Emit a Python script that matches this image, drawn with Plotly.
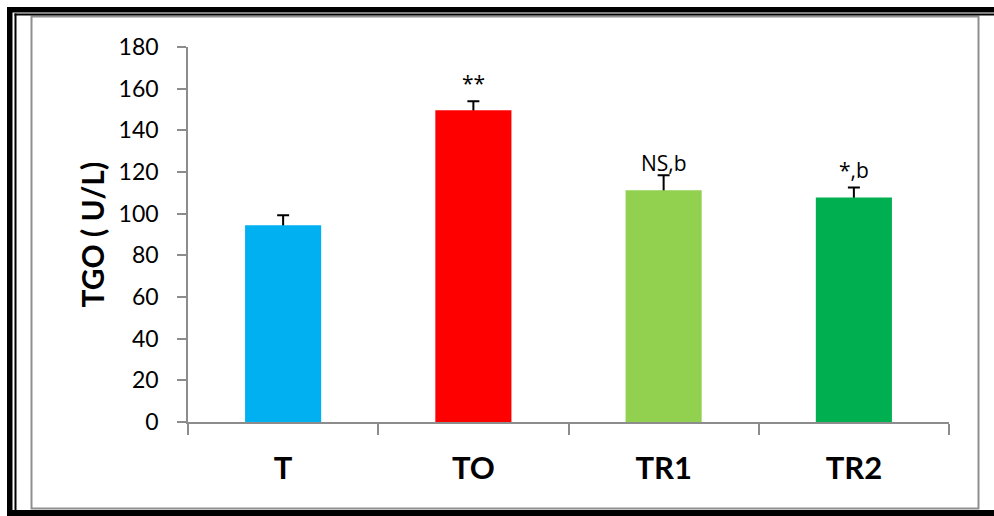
import plotly.graph_objects as go

# Group data: mean TGO activity (U/L) with standard error
groups = ["T", "TO", "TR1", "TR2"]
tgo_mean = [94.4, 149.6, 111.2, 107.8]
tgo_err = [4.8, 4.4, 7.2, 4.7]
sig_labels = ["", "**", "NS,b", "*,b"]
bar_colors = ["#00B0F0", "#FF0000", "#92D050", "#00B050"]
y_ticks = [0, 20, 40, 60, 80, 100, 120, 140, 160, 180]

W, H = 994, 516
ML, MR, MT, MB = 188, 45, 47, 94
PW, PH = W - ML - MR, H - MT - MB
FONT = "Lato, Carlito, Calibri, sans-serif"
AXIS_GREY = "#8C8C8C"


def px(x):
    return (x - ML) / PW


def py(y):
    return (H - MB - y) / PH


fig = go.Figure()
# Error bars sit in a transparent trace underneath, so the coloured bars
# hide their lower half and only the upper whisker shows.
fig.add_trace(go.Bar(
    x=groups, y=tgo_mean, width=0.4,
    marker=dict(color="rgba(0,0,0,0)", line=dict(width=0)),
    error_y=dict(type="data", array=tgo_err, color="black",
                 thickness=2, width=6),
    showlegend=False, hoverinfo="skip",
))
fig.add_trace(go.Bar(
    x=groups, y=tgo_mean, width=0.4,
    marker=dict(color=bar_colors, line=dict(width=0)),
    showlegend=False,
))

# Significance labels above each bar
for g, v, lab in zip(groups, tgo_mean, sig_labels):
    if lab:
        fig.add_annotation(x=g, y=v, text=lab, showarrow=False,
                           yanchor="bottom", yshift=11,
                           font=dict(family="Open Sans, sans-serif", size=21,
                                     color="black"))

# Y-axis title
fig.add_annotation(xref="paper", yref="paper", x=px(91), y=0.5,
                   text="<b>TGO ( U/L)</b>", textangle=-90, showarrow=False,
                   xanchor="center", yanchor="middle",
                   font=dict(family=FONT, size=30, color="black"))

shapes = []
# Chart area border
shapes.append(dict(type="rect", xref="paper", yref="paper",
                   x0=px(31.5), x1=px(978.5), y0=py(508.5), y1=py(16.5),
                   line=dict(color="#8F8F8F", width=2), fillcolor="rgba(0,0,0,0)"))
# Double black frame: thick outer band and thin inner line
for x0, y0, x1, y1 in [
    (7, 7, 994, 12.5),       # outer top
    (7, 7, 12.5, 516),       # outer left
    (14.5, 13.5, 994, 15.5),   # inner top
    (14.5, 13.5, 16.5, 510),   # inner left
    (7, 510, 994, 516),      # bottom
]:
    shapes.append(dict(type="rect", xref="paper", yref="paper",
                       x0=px(x0), x1=px(x1), y0=py(y1), y1=py(y0),
                       line=dict(width=0), fillcolor="black"))

fig.update_layout(
    width=W, height=H,
    margin=dict(l=ML, r=MR, t=MT, b=MB, pad=0),
    paper_bgcolor="white", plot_bgcolor="white",
    shapes=shapes,
    barmode="overlay",
    xaxis=dict(type="category", range=[-0.5, 3.5], tickson="boundaries",
               ticks="outside", ticklen=11, tickwidth=1.5, tickcolor=AXIS_GREY,
               showline=True, linecolor=AXIS_GREY, linewidth=1.5,
               showgrid=False, ticklabelstandoff=18,
               tickfont=dict(family=FONT, size=31, color="black", weight="bold")),
    yaxis=dict(range=[0, 180], tickvals=y_ticks, ticks="outside", ticklen=9,
               tickwidth=1.5, tickcolor=AXIS_GREY, showline=True,
               linecolor=AXIS_GREY, linewidth=1.5, showgrid=False,
               zeroline=False, ticklabelstandoff=14,
               tickfont=dict(family=FONT, size=23, color="black")),
)

fig.write_html("out.html")
